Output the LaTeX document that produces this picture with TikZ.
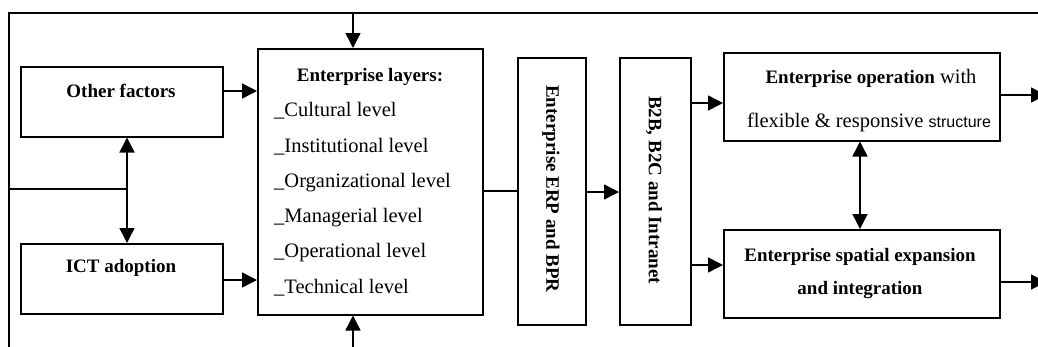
\documentclass[tikz,border=0pt]{standalone}
\usepackage{fontspec}
\setmainfont{Liberation Serif}
\newfontfamily\arialfont{Liberation Sans}
\usetikzlibrary{arrows.meta}

\begin{document}
\begin{tikzpicture}[x=1pt,y=-1pt,
  box/.style={draw, line width=1.5pt, inner sep=0pt, anchor=north west},
  conn/.style={line width=1.5pt},
  arr/.style={conn, -{Triangle[length=15pt,width=15pt]}},
  darr/.style={conn, {Triangle[length=15pt,width=15pt]}-{Triangle[length=15pt,width=15pt]}},
  txt/.style={inner sep=0pt, font=\fontsize{20.5}{24}\selectfont},
  btxt/.style={inner sep=0pt, font=\fontsize{19}{22}\selectfont\bfseries},
]
\clip (0,0) rectangle (1038,346);

% boxes
\node[box, minimum width=202pt, minimum height=70pt]  (other)  at (20,66)  {};
\node[box, minimum width=202pt, minimum height=70pt]  (ict)    at (20,243) {};
\node[box, minimum width=225pt, minimum height=266pt] (layers) at (257,48) {};
\node[box, minimum width=68pt,  minimum height=267pt] (erp)    at (517,57) {};
\node[box, minimum width=71pt,  minimum height=267pt] (b2b)    at (619,57) {};
\node[box, minimum width=276pt, minimum height=88pt]  (oper)   at (723,52) {};
\node[box, minimum width=276pt, minimum height=88pt]  (spat)   at (723,229) {};

% texts
\node[btxt] (t-other) at (121,91)  {Other factors};
\node[btxt] (t-ict)   at (121,268) {ICT adoption};
\node[btxt] (t-layers) at (370,77) {Enterprise layers:};
\node[txt, anchor=west] (l1) at (274,111) {\_Cultural level};
\node[txt, anchor=west] (l2) at (274,147) {\_Institutional level};
\node[txt, anchor=west] (l3) at (274,183) {\_Organizational level};
\node[txt, anchor=west] (l4) at (274,218) {\_Managerial level};
\node[txt, anchor=west] (l5) at (274,253) {\_Operational level};
\node[txt, anchor=west] (l6) at (274,288) {\_Technical level};
\node[btxt, rotate=-90] (t-erp) at (551,189) {Enterprise ERP and BPR};
\node[btxt, rotate=-90] (t-b2b) at (654,190) {B2B, B2C and Intranet};
\node[txt] (t-oper1) at (871,78)  {{\fontsize{19}{22}\selectfont\bfseries Enterprise operation} with};
\node[txt] (t-oper2) at (869,122) {flexible \& responsive {\arialfont\fontsize{16}{20}\selectfont structure}};
\node[btxt] (t-spat1) at (860,257) {Enterprise spatial expansion};
\node[btxt] (t-spat2) at (860,290) {and integration};

% frame lines
\coordinate (corner) at (9,13);
\coordinate (topR)   at (1045,13);
\coordinate (botL)   at (9,350);
\coordinate (topin)  at (353,13);
\coordinate (botin)  at (353,350);
\coordinate (lj)     at (9,189);
\coordinate (mj)     at (127,189);
\coordinate (out1)   at (1046,95);
\coordinate (out2)   at (1046,282);

\draw[conn] (topR) -- (corner) -- (botL);
\draw[conn] (lj) -- (mj);
\draw[darr] (other.south -| mj) -- (ict.north -| mj);

% connectors
\draw[arr] (topin) -- (topin |- layers.north);
\draw[arr] (botin) -- (botin |- layers.south);
\draw[arr] (other.east |- 0,91) -- (layers.west |- 0,91);
\draw[arr] (ict.east |- 0,280) -- (layers.west |- 0,280);
\draw[conn] (layers.east |- 0,191) -- (erp.west |- 0,191);
\draw[arr] (erp.east |- 0,192) -- (b2b.west |- 0,192);
\draw[arr] (b2b.east |- 0,103) -- (oper.west |- 0,103);
\draw[arr] (b2b.east |- 0,265) -- (spat.west |- 0,265);
\draw[darr] (oper.south -| 860,0) -- (spat.north -| 860,0);
\draw[arr] (oper.east |- out1) -- (out1);
\draw[arr] (spat.east |- out2) -- (out2);
\end{tikzpicture}
\end{document}
